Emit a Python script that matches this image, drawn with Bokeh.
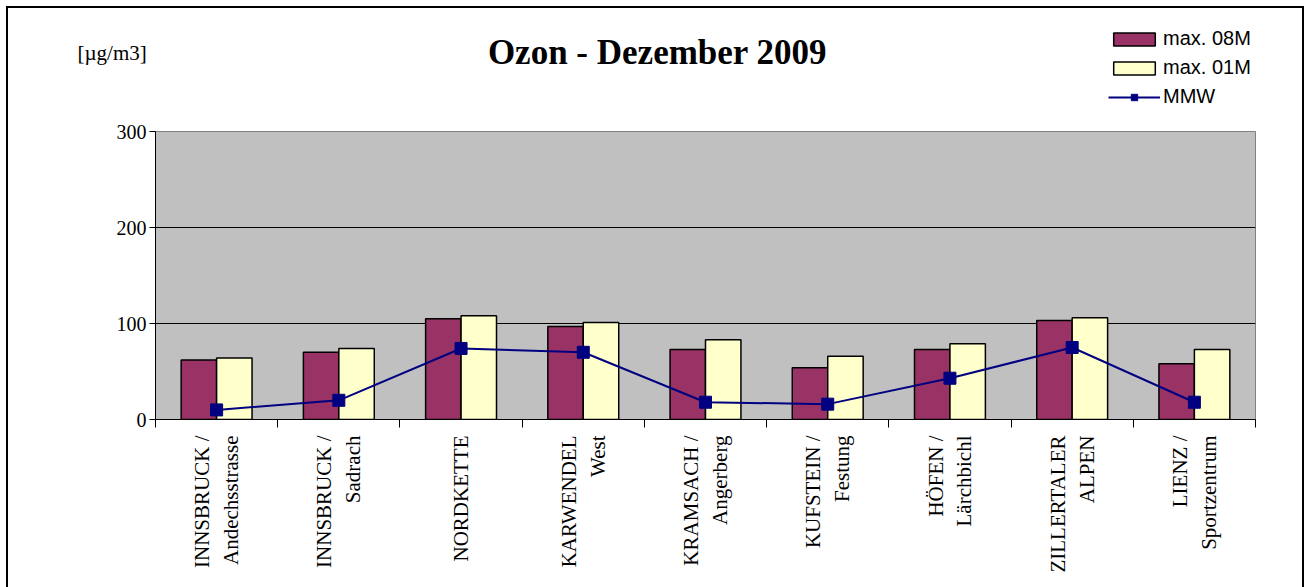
import math
from bokeh.plotting import figure
from bokeh.layouts import column
from bokeh.models import (ColumnDataSource, Range1d, LinearAxis, FixedTicker, Label, Legend, LegendItem)
from bokeh.transform import dodge
from bokeh.embed import file_html
from bokeh.resources import INLINE

# ---- data ----
stations = ["INNSBRUCK /\nAndechsstrasse", "INNSBRUCK /\nSadrach", "NORDKETTE",
            "KARWENDEL\nWest", "KRAMSACH /\nAngerberg", "KUFSTEIN /\nFestung",
            "HÖFEN /\nLärchbichl", "ZILLERTALER\nALPEN", "LIENZ /\nSportzentrum"]
max_08m = [62, 70, 105, 97, 73, 54, 73, 103, 58]
max_01m = [64, 74, 108, 101, 83, 66, 79, 106, 73]
mmw = [10, 20, 74, 70, 18, 16, 43, 75, 18]
y_ticks = [0, 100, 200, 300]
title_text = "Ozon - Dezember 2009"
unit_text = "[µg/m3]"
legend_labels = ["max. 08M", "max. 01M", "MMW"]

n = len(stations)
centers = [i + 0.5 for i in range(n)]      # category slot centres on a 0..n axis
bounds = list(range(n + 1))                # slot boundaries (separator ticks)

source = ColumnDataSource(dict(xc=centers, st=stations, m8=max_08m, m1=max_01m, mmw=mmw))

SERIF = "Liberation Serif"
SANS = "Liberation Sans"
C08, C01, CMMW = "#993366", "#ffffcc", "#000080"

# ---------- header strip: title, unit, legend ----------
W = 1294
HH = 100
hp = figure(width=W, height=HH, x_range=Range1d(8, 8 + W), y_range=Range1d(8 + HH, 8),
            x_axis_location=None, y_axis_location=None, output_backend="svg",
            toolbar_location=None, min_border=0, outline_line_color=None,
            background_fill_color="white", border_fill_color="white")
hp.grid.visible = False

# legend proxies: one undrawable (NaN) row each, so the legend can draw its swatches
proxy = ColumnDataSource(dict(x=[float("nan")], y=[float("nan")]))
lg1 = hp.vbar(x="x", top="y", width=1, source=proxy,
              fill_color=C08, line_color="black", line_width=1.5)
lg2 = hp.vbar(x="x", top="y", width=1, source=proxy,
              fill_color=C01, line_color="black", line_width=1.5)
lg3 = hp.line(x="x", y="y", source=proxy, line_color=CMMW, line_width=2)
lg4 = hp.scatter(x="x", y="y", source=proxy, marker="square", size=12,
                 fill_color=CMMW, line_color=CMMW)

legend = Legend(items=[LegendItem(label=legend_labels[0], renderers=[lg1]),
                       LegendItem(label=legend_labels[1], renderers=[lg2]),
                       LegendItem(label=legend_labels[2], renderers=[lg3, lg4])],
                location=(1100, 0), border_line_color=None, background_fill_alpha=0,
                padding=0, margin=0, spacing=6, glyph_width=52, glyph_height=16,
                label_standoff=3, label_text_font=SANS, label_text_font_size="20px",
                label_text_color="black")
hp.add_layout(legend, "center")

hp.add_layout(Label(x=657, y=52, text=title_text,
                    text_font=SERIF, text_font_style="bold", text_font_size="35px",
                    text_align="center", text_baseline="middle", text_color="black"))
hp.add_layout(Label(x=77, y=52, text=unit_text,
                    text_font=SERIF, text_font_size="21px",
                    text_align="left", text_baseline="middle", text_color="black"))

# ---------- main chart ----------
p = figure(width=W, height=579 - HH, x_range=Range1d(0, n), y_range=Range1d(0, 300),
           x_axis_location=None, output_backend="svg", toolbar_location=None,
           min_border_left=147, min_border_right=47, min_border_top=23, min_border_bottom=168,
           background_fill_color="#c0c0c0", border_fill_color="white",
           outline_line_color="#808080")

# keep the header frame spanning its whole strip (no frame alignment with the chart)
for fig in (hp, p):
    if "frame_align" in fig.properties():
        fig.frame_align = False

xaxis = LinearAxis(ticker=FixedTicker(ticks=centers, minor_ticks=bounds),
                   major_label_overrides={c: s for c, s in zip(centers, stations)},
                   major_tick_line_color=None, major_tick_out=8, major_tick_in=0,
                   minor_tick_line_color="black", minor_tick_out=8, minor_tick_in=0,
                   axis_line_color="black",
                   major_label_orientation=math.pi / 2, major_label_text_font=SERIF,
                   major_label_text_font_size="21px", major_label_text_color="black",
                   major_label_standoff=8)
p.add_layout(xaxis, "below")

p.yaxis.ticker = FixedTicker(ticks=y_ticks)
p.yaxis.major_label_text_font = SERIF
p.yaxis.major_label_text_font_size = "20px"
p.yaxis.major_label_text_color = "black"
p.yaxis.major_tick_out = 6
p.yaxis.major_tick_in = 0
p.yaxis.minor_tick_line_color = None
p.yaxis.axis_line_color = "black"
p.yaxis.major_tick_line_color = "black"
p.yaxis.major_label_standoff = 3
p.ygrid.grid_line_color = "black"
p.ygrid.grid_line_width = 1
p.xgrid.grid_line_color = None

p.vbar(x=dodge("xc", -0.145), top="m8", width=0.29, source=source,
       fill_color=C08, line_color="black", line_width=1.5)
p.vbar(x=dodge("xc", 0.145), top="m1", width=0.29, source=source,
       fill_color=C01, line_color="black", line_width=1.5)
p.line(x="xc", y="mmw", source=source, line_color=CMMW, line_width=2)
p.scatter(x="xc", y="mmw", source=source, marker="square", size=12,
          fill_color=CMMW, line_color=CMMW)

page = column(hp, p, spacing=0,
              styles={"border": "2px solid black", "border-bottom": "none",
                      "margin": "6px 0px 0px 6px"})

open("out.html", "w").write(file_html(page, INLINE))
